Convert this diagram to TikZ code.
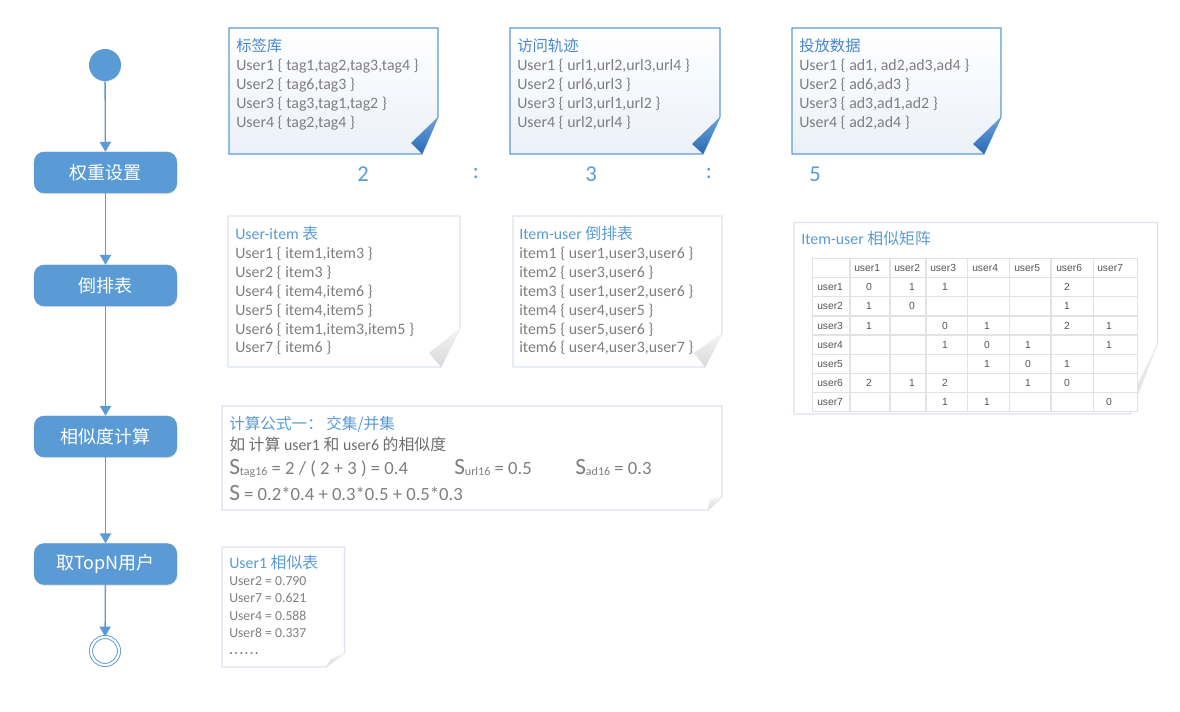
\documentclass[tikz,border=0pt]{standalone}
\usepackage{fontspec}
\setmainfont{Carlito}
\newfontfamily\cjk{Noto Sans CJK SC}
\newfontfamily\arialf{Liberation Sans}
\usetikzlibrary{arrows.meta,shadows}
\definecolor{flowblue}{HTML}{5B9BD5}
\definecolor{titleblue}{HTML}{4A88CB}
\definecolor{lowtitle}{HTML}{5B9BD5}
\definecolor{txtgray}{HTML}{7F7F7F}
\definecolor{dkgray}{HTML}{6E6E6E}
\definecolor{noteedge}{HTML}{DCE3EF}
\definecolor{tabline}{HTML}{E2E2E2}
\definecolor{tabtxt}{HTML}{555555}
\definecolor{flapA}{HTML}{6BA5DE}
\definecolor{flapB}{HTML}{2A68B2}
\definecolor{noteshade}{HTML}{EBF0F8}
\tikzset{
  flowbox/.style={rectangle, rounded corners=7.5pt, fill=flowblue, draw=flowblue!80!gray,
    line width=0.3pt, minimum width=107pt, minimum height=30.8pt, text=white,
    font=\cjk\fontsize{13.5}{16}\selectfont,
    drop shadow={opacity=0.18, shadow xshift=0.6pt, shadow yshift=-1pt}},
  startc/.style={circle, fill=flowblue, minimum size=24pt, inner sep=0pt,
    drop shadow={opacity=0.15, shadow xshift=0.5pt, shadow yshift=-0.8pt}},
  endc/.style={circle, draw=flowblue, line width=0.7pt, double=white, double distance=1.6pt,
    fill=white, minimum size=21pt, inner sep=0pt},
  flow/.style={draw=flowblue, line width=1pt, -{Triangle[width=8.5pt,length=7.5pt]}},
  body/.style={anchor=base west, inner sep=0pt, text=txtgray, font=\fontsize{11.9}{14}\selectfont},
  ttl/.style={anchor=base west, inner sep=0pt, text=titleblue, font=\cjk\fontsize{11.5}{14}\selectfont},
  lttl/.style={anchor=base west, inner sep=0pt, text=lowtitle, font=\fontsize{11.9}{14}\selectfont},
  ratio/.style={inner sep=0pt, text=flowblue, font=\fontsize{17}{20}\selectfont},
  tnote/.style={draw=flowblue, line width=0.8pt, top color=white, bottom color=noteshade},
  tflap/.style={top color=flapA, bottom color=flapB, draw=none},
  lnote/.style={draw=noteedge, line width=0.8pt, fill=white},
  lflap/.style={top color=gray!8, bottom color=gray!30, draw=none},
  tabc/.style={inner sep=0pt, text=tabtxt, font=\arialf\fontsize{7.7}{9}\selectfont},
  tabh/.style={tabc, anchor=west},
  frm/.style={anchor=base west, inner sep=0pt, text=txtgray, font=\fontsize{14}{16}\selectfont}
}
\newcommand\bigS{{\fontsize{17.5}{18}\selectfont S}}
\newcommand\subs[1]{\raisebox{-0.8pt}{\fontsize{9}{9}\selectfont #1}}
\begin{document}
\begin{tikzpicture}[x=0.75pt,y=-0.75pt]
\useasboundingbox (0,0) rectangle (1180,712);

% ---------------- flow ----------------
\node[startc] (start) at (105,65) {};
\node[flowbox] (b1) at (105.5,172.5) {权重设置};
\node[flowbox] (b2) at (105.5,285.5) {倒排表};
\node[flowbox] (b3) at (105.5,436.5) {相似度计算};
\node[flowbox] (b4) at (105.5,564) {取TopN用户};
\node[endc] (end) at (105,651) {};
\draw[flow] (start) -- (b1);
\draw[flow] (b1) -- (b2);
\draw[flow] (b2) -- (b3);
\draw[flow] (b3) -- (b4);
\draw[flow] (b4) -- (end);

% ---------------- top notes ----------------
\path[tnote] (229,28) -- (438,28) -- (438,117) -- (422,154) -- (229,154) -- cycle;
\path[tflap] (438,117) -- (422,154) -- (411,143) -- cycle;
\path[tnote] (510,28) -- (720,28) -- (720,117) -- (703,154) -- (510,154) -- cycle;
\path[tflap] (720,117) -- (703,154) -- (692,144) -- cycle;
\path[tnote] (792,28) -- (1001,28) -- (1001,117) -- (984,154) -- (792,154) -- cycle;
\path[tflap] (1001,117) -- (984,154) -- (973,144) -- cycle;

\node[ttl] (ta) at (236,51.7) {标签库};
\foreach \t [count=\i] in {{User1 \{ tag1,tag2,tag3,tag4 \}},{User2 \{ tag6,tag3 \}},{User3 \{ tag3,tag1,tag2 \}},{User4 \{ tag2,tag4 \}}}
  \node[body] (ta\i) at (236,{51.7+\i*19.0}) {\t};
\node[ttl] (tb) at (517,51.7) {访问轨迹};
\foreach \t [count=\i] in {{User1 \{ url1,url2,url3,url4 \}},{User2 \{ url6,url3 \}},{User3 \{ url3,url1,url2 \}},{User4 \{ url2,url4 \}}}
  \node[body] (tb\i) at (517,{51.7+\i*19.0}) {\t};
\node[ttl] (tc) at (799,51.7) {投放数据};
\foreach \t [count=\i] in {{User1 \{ ad1, ad2,ad3,ad4 \}},{User2 \{ ad6,ad3 \}},{User3 \{ ad3,ad1,ad2 \}},{User4 \{ ad2,ad4 \}}}
  \node[body] (tc\i) at (799,{51.7+\i*19.0}) {\t};

\node[ratio] (r2) at (363,174) {2};
\node[ratio] (rc1) at (476,174) {:};
\node[ratio] (r3) at (591,174) {3};
\node[ratio] (rc2) at (709,174) {:};
\node[ratio] (r5) at (815,174) {5};

% ---------------- User-item note ----------------
\path[lnote] (228,216) -- (460,216) -- (460,328) -- (441,367) -- (228,367) -- cycle;
\path[lflap] (460,328) -- (441,367) -- (429,353) -- cycle;
\node[lttl] (ui) at (235,239.3) {User-item {\cjk 表}};
\foreach \t [count=\i] in {{User1 \{ item1,item3 \}},{User2 \{ item3 \}},{User4 \{ item4,item6 \}},{User5 \{ item4,item5 \}},{User6 \{ item1,item3,item5 \}},{User7 \{ item6 \}}}
  \node[body] (ui\i) at (235,{239.3+\i*18.95}) {\t};

% ---------------- Item-user note ----------------
\path[lnote] (513,216) -- (722,216) -- (722,333) -- (705,367) -- (513,367) -- cycle;
\path[lflap] (722,333) -- (705,367) -- (694,353) -- cycle;
\node[lttl] (iu) at (519,239.3) {Item-user {\cjk 倒排表}};
\foreach \t [count=\i] in {{item1 \{ user1,user3,user6 \}},{item2 \{ user3,user6 \}},{item3 \{ user1,user2,user6 \}},{item4 \{ user4,user5 \}},{item5 \{ user5,user6 \}},{item6 \{ user4,user3,user7 \}}}
  \node[body] (iu\i) at (519,{239.3+\i*18.95}) {\t};

% ---------------- matrix note ----------------
\path[lnote] (794,222.5) -- (1157.5,222.5) -- (1157.5,343) -- (1130,414) -- (794,414) -- cycle;
\path[lflap] (1157.5,343) -- (1130,414) -- (1134,392) -- cycle;
\node[lttl] (mt) at (801,245) {Item-user {\cjk 相似矩阵}};
\fill[white] (812.7,258.3) rectangle (1137.3,411.7);
\foreach \xx in {812.7,850,890,926,967.7,1009.3,1051,1093.3,1137.3}
  \draw[tabline, line width=0.8pt] (\xx,258.3) -- (\xx,411.7);
\foreach \yy in {258.3,277.7,296.7,316,335,354.3,373.3,392.7,411.7}
  \draw[tabline, line width=0.8pt] (812.7,\yy) -- (1137.3,\yy);
\foreach \xx [count=\i] in {854,894,930,972,1014,1056,1097}
  \node[tabh] (h\i) at (\xx,268) {user\i};
\foreach \i in {1,...,7}
  \node[tabh] (rl\i) at (817,{268+\i*19.18}) {user\i};
\foreach \c/\r/\v in {1/1/0,2/1/1,3/1/1,6/1/2,
                      1/2/1,2/2/0,6/2/1,
                      1/3/1,3/3/0,4/3/1,6/3/2,7/3/1,
                      3/4/1,4/4/0,5/4/1,7/4/1,
                      4/5/1,5/5/0,6/5/1,
                      1/6/2,2/6/1,3/6/2,5/6/1,6/6/0,
                      3/7/1,4/7/1,7/7/0}{
  \pgfmathsetmacro\cx{{869,912,945,987,1028,1067,1109}[\c-1]}
  \node[tabc] (m\c-\r) at (\cx,{268+\r*19.18}) {\v};
}

% ---------------- formula note ----------------
\path[lnote] (222,406) -- (722,406) -- (722,497) -- (708,510) -- (222,510) -- cycle;
\path[lflap] (722,497) -- (708,510) -- (710,499) -- cycle;
\node[anchor=base west, inner sep=0pt, text=lowtitle, font=\cjk\fontsize{11.7}{13}\selectfont] (ft) at (229,429.3) {计算公式一：\ 交集/并集};
\node[anchor=base west, inner sep=0pt, text=dkgray, font=\fontsize{11.9}{14}\selectfont] (f1) at (229,450) {{\cjk 如 计算} user1 {\cjk 和} user6 {\cjk 的相似度}};
\node[frm] (f2) at (229,474) {\bigS\subs{tag16} = 2 / ( 2 + 3 ) = 0.4};
\node[frm] (f3) at (454,474) {\bigS\subs{url16} = 0.5};
\node[frm] (f4) at (575,474) {\bigS\subs{ad16} = 0.3};
\node[frm] (f5) at (229,500) {\bigS\ = 0.2*0.4 + 0.3*0.5 + 0.5*0.3};

% ---------------- User1 similarity note ----------------
\path[lnote] (222,547) -- (344.5,547) -- (344.5,653) -- (326,667) -- (222,667) -- cycle;
\path[lflap] (344.5,653) -- (326,667) -- (331,659) -- cycle;
\node[lttl] (st) at (229,568.3) {User1 {\cjk 相似表}};
\foreach \t [count=\i] in {{User2 = 0.790},{User7 = 0.621},{User4 = 0.588},{User8 = 0.337},{\textbf{.\kern1.1pt.\kern1.1pt.\kern1.1pt.\kern1.1pt.\kern1.1pt.}}}
  \node[anchor=base west, inner sep=0pt, text=txtgray, font=\fontsize{10.3}{12}\selectfont] (s\i) at (229,{568.3+\i*17.3}) {\t};
\end{tikzpicture}
\end{document}
